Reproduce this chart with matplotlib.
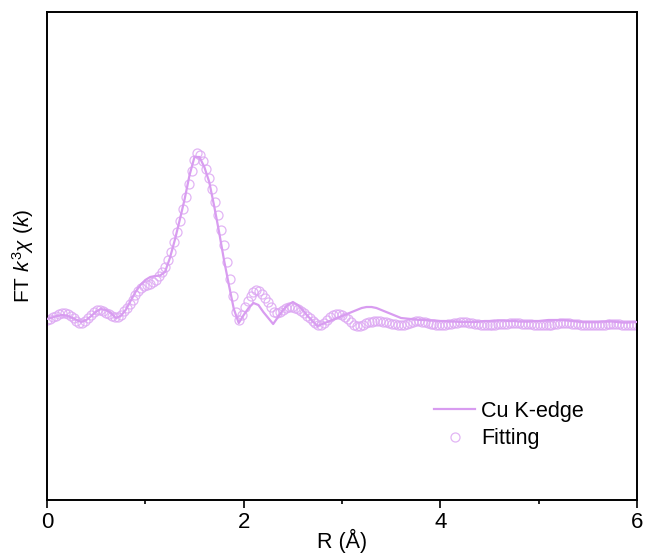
import numpy as np
import matplotlib
matplotlib.use("Agg")
import matplotlib.pyplot as plt
from matplotlib.ticker import MultipleLocator

plt.rcParams['font.family'] = ['Liberation Sans', 'DejaVu Sans']
plt.rcParams['mathtext.fontset'] = 'custom'
plt.rcParams['mathtext.rm'] = 'Liberation Sans'
plt.rcParams['mathtext.it'] = 'Liberation Sans:italic'

# ---- data (arbitrary units) ----
r_exp = np.round(np.arange(121) * 0.05, 2)
ft_exp = [
    8, 9.5, 11, 12, 11.5, 9.5, 7, 5, 7, 11,
    15.5, 18, 17, 14, 9, 11, 17, 26, 35, 42,
    47, 50, 51, 51.5, 55, 69, 87, 107, 128, 152,
    170, 170, 160, 145, 121, 95, 67, 42, 18, 4,
    12, 19, 24, 22, 15, 9, 3, 10, 17, 22,
    25, 22, 17, 11, 6, 1, 3, 5, 7, 9,
    11, 13, 15, 17, 19, 20, 20, 19, 17, 15,
    13, 11, 9, 8.5, 8, 7.5, 7, 7, 6.5, 6.5,
    6, 6, 5.5, 5.5, 5, 5, 5, 5, 5.5, 6,
    6, 6.5, 6.5, 6.5, 6, 6, 5.5, 5.5, 5.5, 6,
    6, 6.5, 7, 7, 7, 7, 6.5, 6, 5.5, 5,
    5, 5, 5, 5.5, 5.5, 5.5, 5, 4.5, 4.5, 5,
    5,
]

r_fit = np.round(np.arange(201) * 0.03, 2)
ft_fit = [
    7, 8.5, 10, 11.5, 13, 14, 14, 13, 11, 9,
    6.5, 4.5, 4, 6, 9, 12, 15, 17, 17, 16,
    14.5, 13, 11.5, 10.5, 10, 12, 16, 19, 23, 27,
    32, 36, 39, 40.5, 42, 43, 45, 47, 51, 55,
    60, 67, 75, 85, 95, 106, 118, 130, 143, 156,
    167, 174, 172, 166, 158, 149, 138, 125, 112, 97,
    82, 65, 48, 31, 15, 7, 12, 20, 26, 31,
    35, 37, 36, 33, 29, 25, 20, 15, 14, 15,
    17, 19, 20, 20, 19.5, 18, 16, 14, 11.5, 9,
    6.5, 4.5, 2.5, 2, 4, 7, 10, 12, 13, 13,
    12, 10, 8, 5, 2.5, 1, 1.5, 2.5, 4, 5,
    5.5, 6, 6, 6, 5.5, 5, 4, 3.5, 3, 2.5,
    2, 2.5, 3.5, 4.5, 5.5, 6, 6, 5.5, 5, 4,
    3.5, 3, 2.5, 2, 2, 2.5, 3, 3.5, 4, 4.5,
    5, 5, 5, 4.5, 4, 3.5, 3, 2.5, 2, 2,
    2, 2, 2.5, 3, 3, 3.5, 3.5, 4, 4, 4,
    4, 3.5, 3.5, 3, 3, 2.5, 2.5, 2, 2, 2,
    2, 2.5, 3, 3.5, 4, 4, 4, 4, 3.5, 3,
    3, 2.5, 2.5, 2, 2, 2, 2, 2, 2.5, 2.5,
    3, 3, 3, 3, 3, 2.5, 2.5, 2, 2, 2,
    2,
]

x_ticks = [0, 2, 4, 6]

fig = plt.figure(figsize=(6.47, 5.57), dpi=100)
ax = fig.add_axes([0.0726, 0.1023, 0.912, 0.8762])

line_color = '#D89CF0'
circ_color = '#DDA8F3'

ax.plot(r_exp, ft_exp, color=line_color, lw=1.6, label='Cu K-edge', zorder=3)
ax.plot(r_fit, ft_fit, linestyle='none', marker='o', markersize=6.5,
        markerfacecolor='none', markeredgecolor=circ_color, markeredgewidth=0.9,
        alpha=0.85, label='Fitting', zorder=2)

ax.set_xlim(0, 6)
ax.set_ylim(-173, 315)
ax.set_xticks(x_ticks)
ax.set_xticklabels([str(t) for t in x_ticks])
ax.xaxis.set_minor_locator(MultipleLocator(1))
ax.set_yticks([])
ax.tick_params(axis='x', which='major', direction='out', length=5.5, width=1.2,
               labelsize=16, pad=3, top=False)
ax.tick_params(axis='x', which='minor', direction='out', length=3, width=1.2, top=False)
for s in ax.spines.values():
    s.set_linewidth(1.4)

ax.set_xlabel('R (Å)', fontsize=15.5, labelpad=-3)
ax.set_ylabel(r'FT $k^3\chi$ ($k$)', fontsize=15, labelpad=8)

leg = ax.legend(loc='upper left', bbox_to_anchor=(0.656, 0.203), frameon=False,
                fontsize=15.5, handlelength=1.9, handletextpad=0.3, labelspacing=0.3,
                borderpad=0, borderaxespad=0)

fig.savefig('out.png', dpi=100)
